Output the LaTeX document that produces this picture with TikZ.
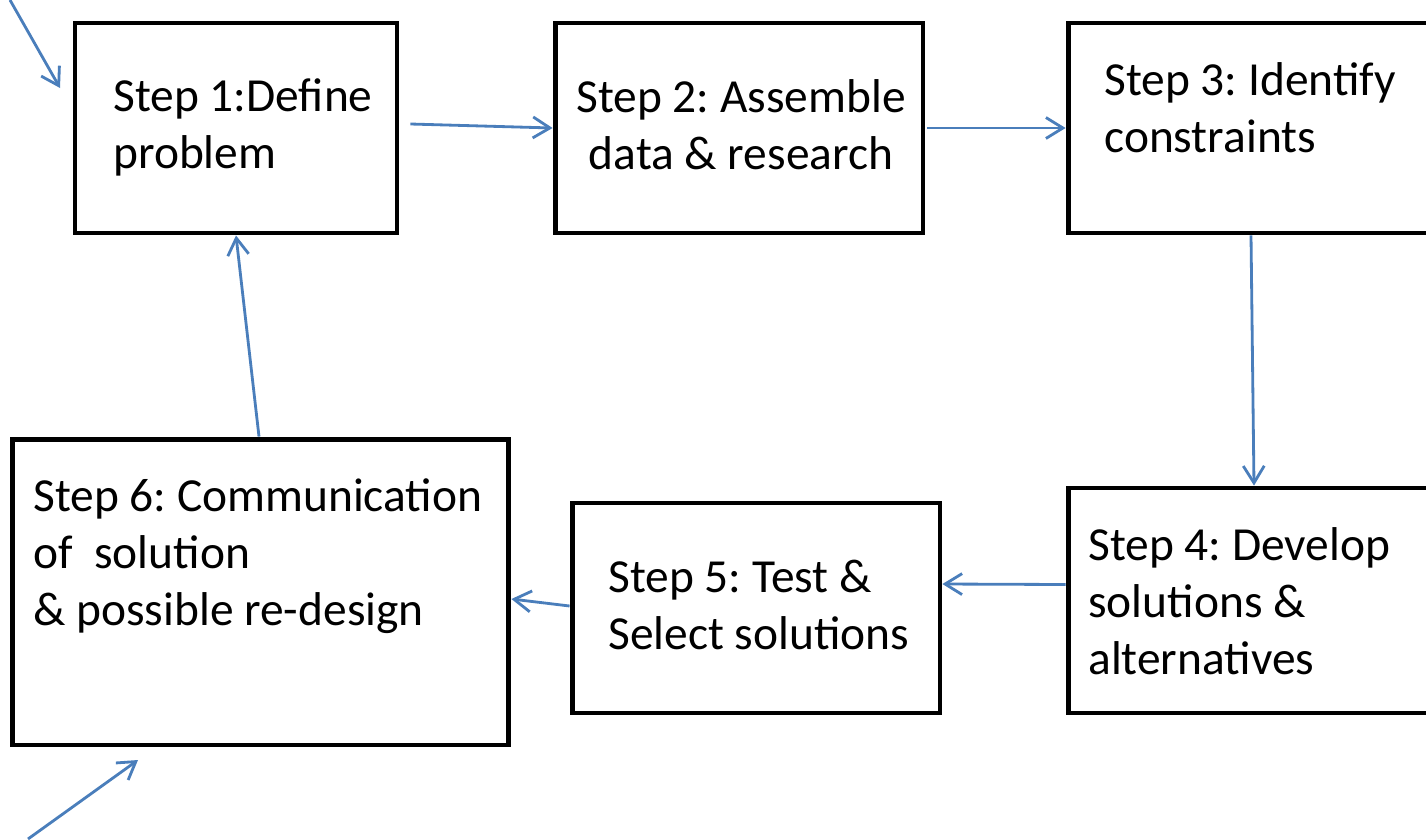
\documentclass[tikz,border=0pt]{standalone}
\usepackage{fontspec}
\setmainfont{Carlito}
\usetikzlibrary{calc}
\usetikzlibrary{arrows.meta}
\definecolor{arrowblue}{HTML}{4A7EBB}
\frenchspacing

\begin{document}
\begin{tikzpicture}[x=0.02cm,y=-0.02cm]
\tikzset{stepbox/.style={draw,rectangle,line width=2.8pt,inner sep=0pt},
  steptext/.style={font=\fontsize{27}{32.4}\selectfont,align=left,inner sep=0pt},
  conn/.style={draw=arrowblue,line width=1.6pt,-{Straight Barb[length=0.34cm,width=0.42cm]}}}
\useasboundingbox (0,0) rectangle (1426,839);
\clip (0,0) rectangle (1426,839);

% Cajas
\node (box1) at (236,128) [stepbox,minimum width=6.44cm,minimum height=4.2cm] {};
\node (box2) at (739,128) [stepbox,minimum width=7.36cm,minimum height=4.2cm] {};
\node (box3) at (1254,128) [stepbox,minimum width=7.44cm,minimum height=4.2cm] {};
\node (box4) at (1254,600.5) [stepbox,minimum width=7.44cm,minimum height=4.5cm] {};
\node (box5) at (756,608) [stepbox,minimum width=7.36cm,minimum height=4.2cm] {};
\node (box6) at (260.5,592) [stepbox,minimum width=9.94cm,minimum height=6.12cm] {};
% Textos (base = ultima linea)
\node (t1) at (113,168) [steptext,anchor=base west] {Step 1:Define\\problem};
\node (t2) at (741,169) [steptext,anchor=base,align=center] {Step 2: Assemble\\data \& research};
\node (t3) at (1104,152) [steptext,anchor=base west] {Step 3: Identify\\constraints};
\node (t4) at (1088,674) [steptext,anchor=base west] {Step 4: Develop\\solutions \&\\alternatives};
\node (t5) at (608,649) [steptext,anchor=base west] {Step 5: Test \&\\Select solutions};
\node (t6) at (33,625) [steptext,anchor=base west] {Step 6: Communication\\of\ \ solution\\\& possible re-design};
% Entradas
\coordinate (in1a) at (10,0);
\coordinate (in1b) at (60,88);
\coordinate (in6a) at (28,839);
\coordinate (in6b) at (138,760);

\draw[conn] (in1a) -- (in1b);
\draw[conn] (in6a) -- (in6b);
\draw[conn] ($(box1.east)+(11,-4)$) -- (box2.west);
\draw[conn] ($(box2.east)+(2,0)$) -- (box3.west);
\draw[conn] ($(box3.south)+(-3,0)$) -- (box4.north);
\draw[conn] ($(box4.west)+(0,-16)$) -- ($(box5.east)+(0,-24)$);
\draw[conn] ($(box5.west)+(0,-2)$) -- ($(box6.east)+(0,7)$);
\draw[conn] ($(box6.north)+(-1.5,0)$) -- (box1.south);

\end{tikzpicture}
\end{document}
